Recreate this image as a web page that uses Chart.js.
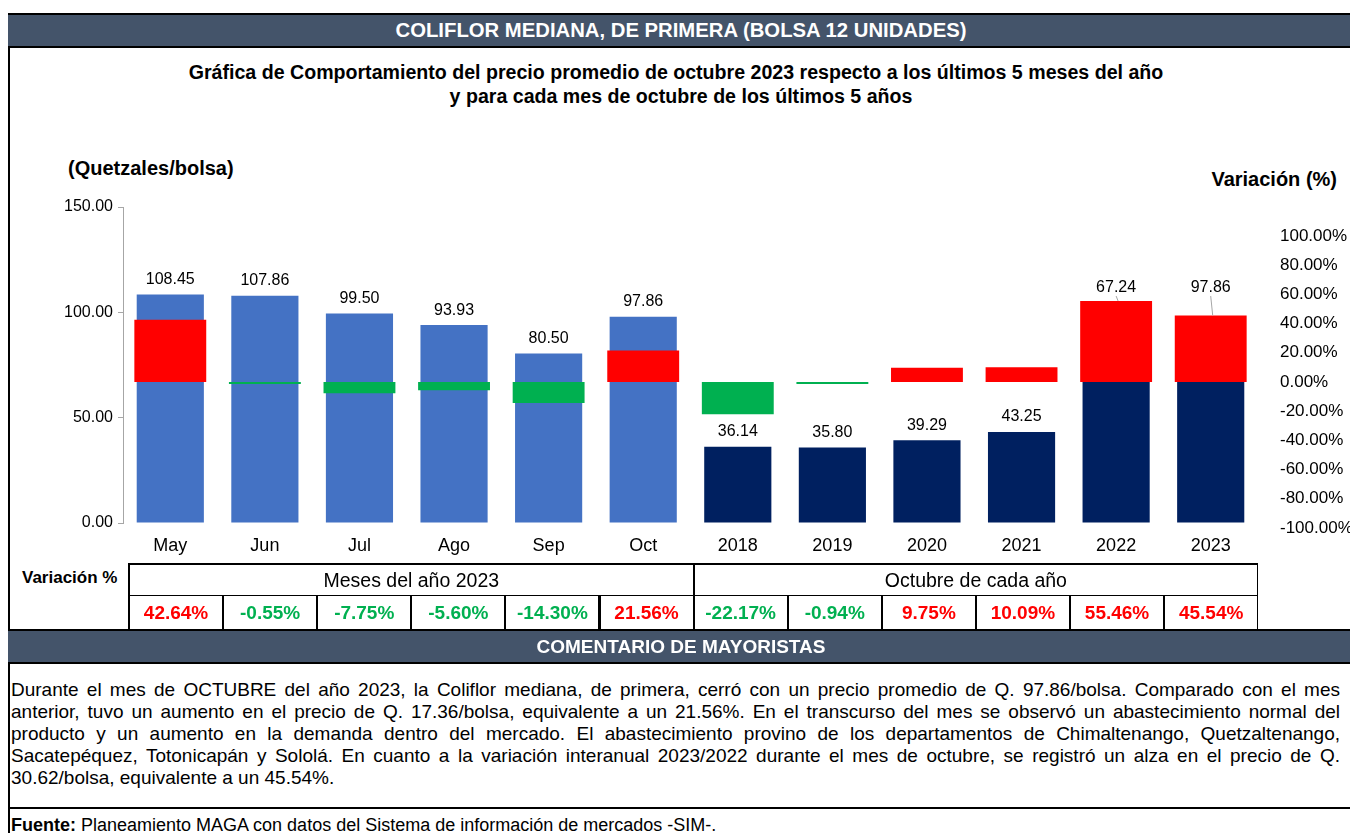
<!DOCTYPE html>
<html>
<head>
<meta charset="utf-8">
<script src="https://cdn.jsdelivr.net/npm/chart.js@4.4.0/dist/chart.umd.min.js"></script>
<style>
  body { margin:0; width:1350px; height:833px; overflow:hidden; background:#fff; position:relative;
         font-family:"Liberation Sans", Arial, sans-serif; color:#000; }
  .abs { position:absolute; }
  .band { left:8px; width:1346px; background:#44546A; color:#fff; font-weight:bold; text-align:center;
          border-top:2px solid #000; border-bottom:2px solid #000; box-sizing:border-box; }
  .cell { position:absolute; box-sizing:border-box; border:1px solid #000; text-align:center; }
  .line { display:block; text-align:justify; text-align-last:justify; white-space:nowrap; }
</style>
</head>
<body>
<div class="abs" style="left:8px;top:13px;width:2px;height:820px;background:#000"></div>
<div class="abs band" style="top:13px;height:35px;line-height:31px;font-size:20.3px">COLIFLOR MEDIANA, DE PRIMERA (BOLSA 12 UNIDADES)</div>
<div class="abs" style="left:3px;width:1346px;top:60px;text-align:center;font-weight:bold;font-size:19.6px;line-height:24px">
  Gráfica de Comportamiento del precio promedio de octubre 2023 respecto a los últimos 5 meses del año<br>
  <span style="position:relative;left:5px">y para cada mes de octubre de los últimos 5 años</span></div>
<div class="abs" style="left:68px;top:157px;font-weight:bold;font-size:20px">(Quetzales/bolsa)</div>
<div class="abs" style="right:13px;top:168px;font-weight:bold;font-size:20px">Variación (%)</div>

<canvas id="chart" class="abs" style="left:0;top:190px" width="1350" height="375"></canvas>

<div class="abs" style="left:22px;top:568px;font-weight:bold;font-size:17px">Variación %</div>
<div id="table"></div>

<div class="abs band" style="top:629px;height:35px;line-height:31px;font-size:19px">COMENTARIO DE MAYORISTAS</div>
<div id="comment" class="abs" style="left:11px;top:679px;width:1329px;font-size:19px;line-height:22px"></div>
<div class="abs" style="left:8px;top:807px;width:1346px;height:2px;background:#000"></div>
<div class="abs" style="left:11px;top:816px;font-size:18px;line-height:19px"><b>Fuente:</b> Planeamiento MAGA con datos del Sistema de información de mercados -SIM-.</div>

<script>
const categories = ["May", "Jun", "Jul", "Ago", "Sep", "Oct", "2018", "2019", "2020", "2021", "2022", "2023"];
const prices = [108.45, 107.86, 99.50, 93.93, 80.50, 97.86, 36.14, 35.80, 39.29, 43.25, 67.24, 97.86];
const variation = [42.64, -0.55, -7.75, -5.60, -14.30, 21.56, -22.17, -0.94, 9.75, 10.09, 55.46, 45.54];
const priceTicks = [0, 50, 100, 150];
const variationTicks = [-100, -80, -60, -40, -20, 0, 20, 40, 60, 80, 100];
const groups = ["Meses del año 2023", "Octubre de cada año"];
const commentLines = [
  "Durante el mes de OCTUBRE del año 2023, la Coliflor mediana, de primera, cerró con un precio promedio de Q. 97.86/bolsa. Comparado con el mes",
  "anterior, tuvo un aumento en el precio de Q. 17.36/bolsa, equivalente a un 21.56%. En el transcurso del mes se observó un abastecimiento normal del",
  "producto y un aumento en la demanda dentro del mercado. El abastecimiento provino de los departamentos de Chimaltenango, Quetzaltenango,",
  "Sacatepéquez, Totonicapán y Sololá.  En cuanto a la variación interanual 2023/2022 durante el mes de octubre, se registró un alza en el precio de Q.",
  "30.62/bolsa, equivalente a un 45.54%."
];

const BLUE = "#4472C4", NAVY = "#002060", RED = "#FF0000", GREEN = "#00B050";
const font = "'Liberation Sans', Arial, sans-serif";

// price labels on top of the bars; when the variation bar overlaps the bar top, the label goes above it
const valueLabels = {
  id: "valueLabels",
  afterDatasetsDraw(chart) {
    const ctx = chart.ctx;
    const pMeta = chart.getDatasetMeta(0);
    const vMeta = chart.getDatasetMeta(1);
    const covered = [];
    let coverY = Infinity;
    pMeta.data.forEach((bar, i) => {
      const vb = vMeta.data[i];
      const vTop = Math.min(vb.y, vb.base), vBot = Math.max(vb.y, vb.base);
      if (vTop < bar.y + 4 && vBot > bar.y - 2) {
        covered.push(i);
        coverY = Math.min(coverY, vTop);
      }
    });
    ctx.save();
    ctx.font = "16px " + font;
    ctx.fillStyle = "#000";
    ctx.textAlign = "center";
    ctx.textBaseline = "middle";
    pMeta.data.forEach((bar, i) => {
      let y = bar.y - 15;
      if (covered.includes(i)) {
        y = coverY - 13;
        const vb = vMeta.data[i];
        ctx.strokeStyle = "#A6A6A6";
        ctx.lineWidth = 1;
        ctx.beginPath();
        ctx.moveTo(bar.x, y + 8);
        ctx.lineTo(bar.x + 2, Math.min(vb.y, vb.base));
        ctx.stroke();
      }
      ctx.fillText(prices[i].toFixed(2), bar.x, y);
    });
    ctx.restore();
  }
};

new Chart(document.getElementById("chart"), {
  type: "bar",
  data: {
    labels: categories,
    datasets: [
      {
        label: "Precio",
        data: prices,
        yAxisID: "y",
        backgroundColor: prices.map((v, i) => i < 6 ? BLUE : NAVY),
        grouped: false,
        order: 2,
        barPercentage: 0.71,
        categoryPercentage: 1
      },
      {
        label: "Variación",
        data: variation,
        yAxisID: "y1",
        backgroundColor: variation.map(v => v >= 0 ? RED : GREEN),
        grouped: false,
        order: 1,
        minBarLength: 2,
        barPercentage: 0.76,
        categoryPercentage: 1
      }
    ]
  },
  options: {
    responsive: false,
    animation: false,
    layout: { padding: { top: 17, left: 0, right: 0, bottom: 0 } },
    plugins: { legend: { display: false }, tooltip: { enabled: false } },
    scales: {
      x: {
        grid: { display: false, drawTicks: false },
        border: { display: false },
        ticks: { color: "#000", font: { size: 18, family: font }, padding: 12 },
        afterFit(s) { s.height = 42; }
      },
      y: {
        position: "left",
        min: 0,
        max: 150,
        afterBuildTicks(s) { s.ticks = priceTicks.map(v => ({ value: v })); },
        grid: { drawOnChartArea: false, tickLength: 5, color: "#A6A6A6" },
        border: { display: true, color: "#A6A6A6" },
        ticks: { color: "#000", font: { size: 16, family: font }, padding: 5,
                 callback: v => Number(v).toFixed(2) },
        afterFit(s) { s.width = 123; s.paddingTop = 0; s.paddingBottom = 0; }
      },
      y1: {
        position: "right",
        min: -96.6,
        max: 119.9,
        afterBuildTicks(s) { s.ticks = variationTicks.map(v => ({ value: v })); },
        grid: { display: false, drawTicks: false },
        border: { display: false },
        ticks: { color: "#000", font: { size: 17, family: font }, padding: 22, autoSkip: false,
                 callback: v => Number(v).toFixed(2) + "%" },
        afterFit(s) { s.width = 92; s.paddingTop = 0; s.paddingBottom = 0; }
      }
    }
  },
  plugins: [valueLabels]
});

// variation table under the chart
const table = document.getElementById("table");
const colLeft = 128, colW = 94.1, row1Top = 563, row1H = 32, row2H = 35;
let html = "";
groups.forEach((g, k) => {
  html += `<div class="cell" style="left:${colLeft + k * 6 * colW}px;top:${row1Top}px;width:${6 * colW + 1}px;height:${row1H + 1}px;` +
          `border-width:2px 1px 1px 2px;font-size:19.5px;line-height:${row1H - 2}px">${g}</div>`;
});
variation.forEach((v, i) => {
  html += `<div class="cell" style="left:${colLeft + i * colW}px;top:${row1Top + row1H}px;width:${colW + 1}px;height:${row2H}px;` +
          `border-width:1px 1px 0 2px;font-size:19px;font-weight:bold;line-height:${row2H - 1}px;color:${v >= 0 ? RED : GREEN}">` +
          `${v.toFixed(2)}%</div>`;
});
table.innerHTML = html;

// comment: one justified line per line of the original, shrunk a little if a line would not fit
const comment = document.getElementById("comment");
const probe = document.createElement("span");
probe.style.cssText = "position:absolute;visibility:hidden;white-space:nowrap;left:0;top:0";
document.body.appendChild(probe);
let size = 19;
const widest = () => {
  probe.style.fontSize = size + "px";
  return Math.max(...commentLines.map(l => { probe.textContent = l; return probe.getBoundingClientRect().width; }));
};
while (widest() > 1325 && size > 14) size -= 0.25;
probe.remove();
comment.style.fontSize = size + "px";
comment.innerHTML = commentLines
  .map((l, i) => `<span class="line" style="${i === commentLines.length - 1 ? "text-align-last:left" : ""}">${l}</span>`)
  .join("");
</script>
</body>
</html>
